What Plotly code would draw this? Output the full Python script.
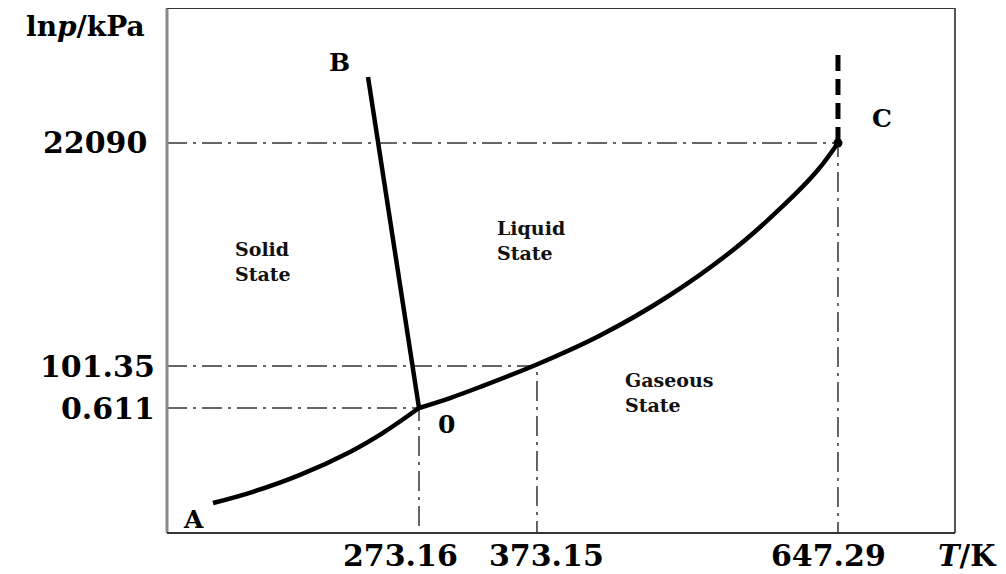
import plotly.graph_objects as go

# ---- data (schematic coordinates, 0-100 on both axes) ----
T_labels = ["273.16", "373.15", "647.29"]
T_pos = [31.98, 46.95, 85.15]
P_labels = ["0.611", "101.35", "22090"]
P_pos = [23.81, 31.81, 74.29]

# sublimation curve A-O
subl_x = [5.84, 10.91, 16.88, 23.22, 27.41, 31.98]
subl_y = [5.71, 7.85, 11.07, 15.45, 19.09, 23.81]
# fusion line O-B
fus_x = [31.98, 25.51]
fus_y = [23.81, 86.86]
# vaporisation curve O-C
vap_x = [31.98, 35.91, 39.72, 47.08, 54.95, 63.45, 71.83, 78.17, 82.49, 85.15]
vap_y = [23.81, 25.71, 27.81, 32.19, 37.62, 44.95, 53.90, 62.29, 68.95, 74.29]
# supercritical extension above C
crit_x = [85.15, 85.15]
crit_y = [74.29, 92.0]

point_labels = ["A", "B", "C", "0"]
point_x = [3.30, 21.95, 90.74, 35.53]
point_y = [2.48, 89.71, 78.86, 20.76]

phase_labels = ["Solid<br>State", "Liquid<br>State", "Gaseous<br>State"]
phase_x = [8.38, 41.62, 57.87]
phase_y = [51.81, 55.81, 26.76]

FONT = "DejaVu Serif"
fig = go.Figure()

# dash-dot guide lines
for tx, py in zip(T_pos, P_pos):
    fig.add_trace(go.Scatter(
        x=[0, tx, tx], y=[py, py, 0], mode="lines",
        line=dict(color="#333333", width=1.5, dash="20px,6px,3px,6px"),
        hoverinfo="skip"))

for xs, ys in [(subl_x, subl_y), (fus_x, fus_y), (vap_x, vap_y)]:
    fig.add_trace(go.Scatter(x=xs, y=ys, mode="lines",
                             line=dict(color="black", width=4.5, shape="spline"),
                             hoverinfo="skip"))

fig.add_trace(go.Scatter(x=crit_x, y=crit_y, mode="lines",
                         line=dict(color="black", width=5, dash="16px,8px"),
                         hoverinfo="skip"))
fig.add_trace(go.Scatter(x=[crit_x[0]], y=[crit_y[0]], mode="markers",
                         marker=dict(color="black", size=9), hoverinfo="skip"))

annotations = []
# x tick labels
x_shift = [-19, 10, -9]
for lab, xp, xs in zip(T_labels, T_pos, x_shift):
    annotations.append(dict(x=xp, y=0, xref="x", yref="paper", text=f"<b>{lab}</b>",
                            showarrow=False, xanchor="center", yanchor="middle",
                            xshift=xs, yshift=-22,
                            font=dict(family=FONT, size=30, color="black")))
# y tick labels
y_shift = [-10, -10, -18]
for lab, yp, xs in zip(P_labels, P_pos, y_shift):
    annotations.append(dict(x=0, y=yp, xref="paper", yref="y", text=f"<b>{lab}</b>",
                            showarrow=False, xanchor="right", yanchor="middle",
                            xshift=xs,
                            font=dict(family=FONT, size=30, color="black")))
# axis titles
annotations.append(dict(x=0, y=1, xref="paper", yref="paper",
                        text="<b>ln<i>p</i>/kPa</b>", showarrow=False,
                        xanchor="center", yanchor="middle", xshift=-82, yshift=-18,
                        font=dict(family=FONT, size=28, color="black")))
annotations.append(dict(x=1, y=0, xref="paper", yref="paper",
                        text="<b><i>T</i>/K</b>", showarrow=False,
                        xanchor="center", yanchor="middle", xshift=12, yshift=-23,
                        font=dict(family=FONT, size=29, color="black")))
# point letters
for lab, xp, yp in zip(point_labels, point_x, point_y):
    annotations.append(dict(x=xp, y=yp, xref="x", yref="y", text=f"<b>{lab}</b>",
                            showarrow=False, xanchor="center", yanchor="middle",
                            font=dict(family=FONT, size=25, color="black")))
# phase labels
for lab, xp, yp in zip(phase_labels, phase_x, phase_y):
    annotations.append(dict(x=xp, y=yp, xref="x", yref="y", text=f"<b>{lab}</b>",
                            showarrow=False, xanchor="left", yanchor="middle",
                            align="left",
                            font=dict(family=FONT, size=19, color="#111111")))

shapes = [
    dict(type="line", xref="paper", yref="paper", x0=0, x1=0, y0=0, y1=1,
         line=dict(color="#8a8a8a", width=3)),
    dict(type="line", xref="paper", yref="paper", x0=0, x1=1, y0=1, y1=1,
         line=dict(color="#333333", width=2)),
    dict(type="line", xref="paper", yref="paper", x0=1, x1=1, y0=0, y1=1,
         line=dict(color="#555555", width=2)),
    dict(type="line", xref="paper", yref="paper", x0=0, x1=1, y0=0, y1=0,
         line=dict(color="#333333", width=2)),
]

# the page body adds an 8px margin, so the figure is 8px smaller and margins compensate
fig.update_layout(
    width=998, height=566,
    margin=dict(l=159, r=51, t=0, b=41, pad=0),
    paper_bgcolor="white", plot_bgcolor="white",
    showlegend=False,
    xaxis=dict(range=[0, 100], showgrid=False, zeroline=False,
               showticklabels=False, showline=False, fixedrange=True),
    yaxis=dict(range=[0, 100], showgrid=False, zeroline=False,
               showticklabels=False, showline=False, fixedrange=True),
    annotations=annotations, shapes=shapes,
)

fig.write_html("out.html")
